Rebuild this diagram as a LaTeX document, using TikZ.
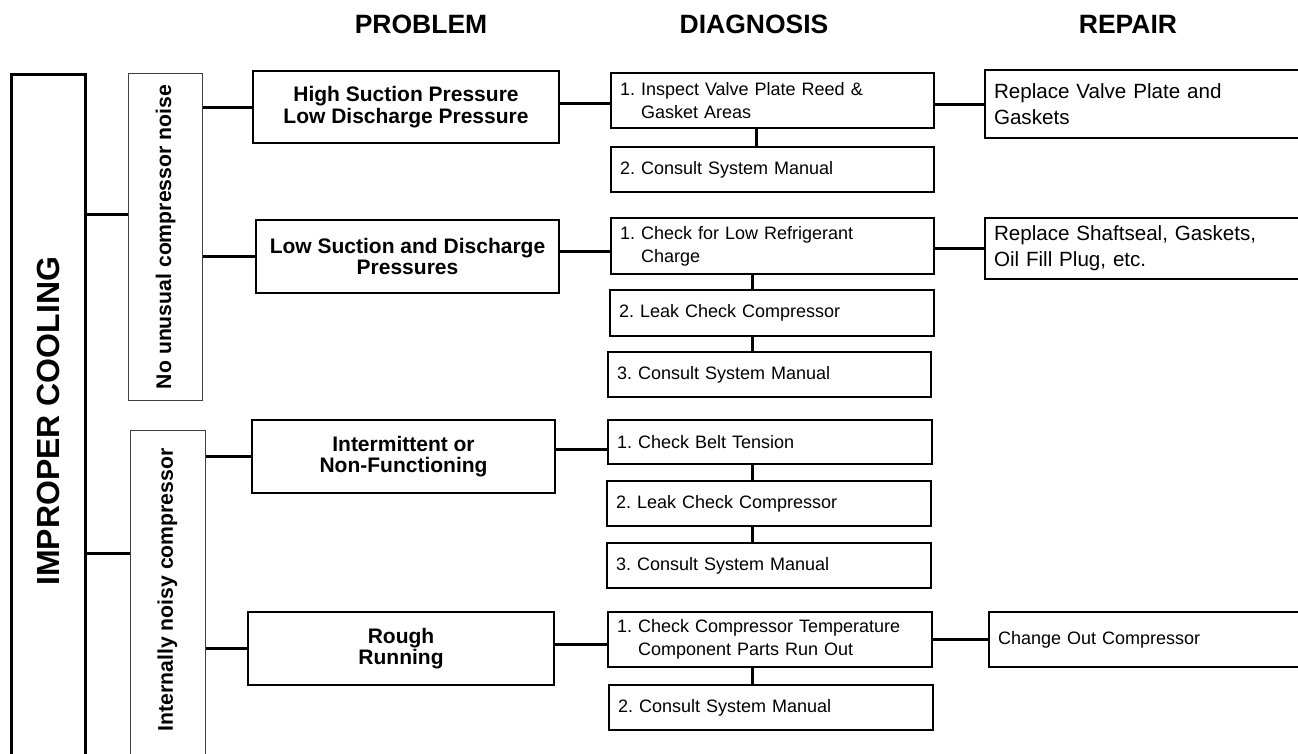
\documentclass[tikz,border=0pt]{standalone}
\usepackage{fontspec}
\setmainfont{Liberation Sans}
\usetikzlibrary{calc}
\frenchspacing
\begin{document}
\begin{tikzpicture}[x=1pt,y=-1pt,
  box/.style={draw, line width=2pt, rectangle, inner sep=0pt, anchor=north west},
  pbox/.style={box, font=\bfseries\fontsize{21}{21.5}\selectfont, align=center},
  dbox/.style={box, inner xsep=9pt, align=left, font=\frenchspacing\fontsize{18}{23}\selectfont},
  rbox/.style={box, inner xsep=9pt, align=left, font=\frenchspacing\fontsize{20.6}{26}\selectfont},
  sbox/.style={draw=black!75, line width=1.2pt, rectangle, inner sep=0pt, anchor=north west},
  stext/.style={rotate=90, font=\bfseries\fontsize{21.2}{24}\selectfont},
  head/.style={font=\bfseries\fontsize{26.5}{30}\selectfont},
  conn/.style={line width=3pt}
]
\useasboundingbox (0,0) rectangle (1298,753);
\fill[white] (0,0) rectangle (1298,753);

% headings
\node[head] (hp) at (421,24) {PROBLEM};
\node[head] (hd) at (754,24) {DIAGNOSIS};
\node[head] (hr) at (1128,24) {REPAIR};

% main box
\node[box, line width=2.5pt, minimum width=74, minimum height=694] (big) at (10,73) {};
\node[rotate=90, font=\bfseries\fontsize{32}{36}\selectfont] (bigt) at (big.center) {IMPROPER COOLING};

% side boxes
\node[sbox, minimum width=74, minimum height=327] (nu) at (128,73) {};
\node[stext] (nut) at (nu.center) {No unusual compressor noise};
\node[sbox, minimum width=75, minimum height=340] (in) at (130,430) {};
\node[stext] (int) at (167.5,590) {Internally noisy compressor};

\coordinate (j1) at (0,214);
\coordinate (j2) at (0,553);
\draw[conn] (j1 -| big.east) -- (j1 -| nu.west);
\draw[conn] (j2 -| big.east) -- (j2 -| in.west);

% problem boxes
\node[pbox, minimum width=306, minimum height=72] (P1) at (252,70) {High Suction Pressure\\Low Discharge Pressure};
\node[pbox, minimum width=303, minimum height=73] (P2) at (255,219) {Low Suction and Discharge\\Pressures};
\node[pbox, minimum width=303, minimum height=73] (P3) at (251,419) {Intermittent or\\Non-Functioning};
\node[pbox, minimum width=306, minimum height=73] (P4) at (247,611) {Rough\\Running};

\draw[conn] (P1.west) -- (P1.west -| nu.east);
\draw[conn] (P2.west) -- (P2.west -| nu.east);
\draw[conn] (P3.west) -- (P3.west -| in.east);
\draw[conn] (P4.west) -- (P4.west -| in.east);

% diagnosis boxes
\node[dbox, text width=305, minimum height=55] (D1a) at (610,72) {1. Inspect Valve Plate Reed \&\\\hphantom{1. }Gasket Areas};
\node[dbox, text width=305, minimum height=45] (D1b) at (610,146) {2. Consult System Manual};
\node[dbox, text width=305, minimum height=56] (D2a) at (610,217) {1. Check for Low Refrigerant\\\hphantom{1. }Charge};
\node[dbox, text width=306, minimum height=46] (D2b) at (609,289) {2. Leak Check Compressor};
\node[dbox, text width=305, minimum height=45] (D2c) at (607,351) {3. Consult System Manual};
\node[dbox, text width=306, minimum height=44] (D3a) at (607,419) {1. Check Belt Tension};
\node[dbox, text width=306, minimum height=45] (D3b) at (606,480) {2. Leak Check Compressor};
\node[dbox, text width=306, minimum height=45] (D3c) at (606,542) {3. Consult System Manual};
\node[dbox, text width=306, minimum height=55] (D4a) at (607,611) {1. Check Compressor Temperature\\\hphantom{1. }Component Parts Run Out};
\node[dbox, text width=306, minimum height=45] (D4b) at (608,684) {2. Consult System Manual};

\coordinate (k1) at ($(P1.east)!0.5!(P1.east |- D1a.west)$);
\coordinate (k2) at ($(P2.east)!0.5!(P2.east |- D2a.west)$);
\coordinate (k3) at ($(P3.east)!0.5!(P3.east |- D3a.west)$);
\coordinate (k4) at ($(P4.east)!0.5!(P4.east |- D4a.west)$);
\draw[conn] (k1) -- (k1 -| D1a.west);
\draw[conn] (k2) -- (k2 -| D2a.west);
\draw[conn] (k3) -- (k3 -| D3a.west);
\draw[conn] (k4) -- (k4 -| D4a.west);

\path ([xshift=146pt]D1a.south west) coordinate (v1);
\draw[conn] (v1) -- (v1 |- D1b.north);
\path ([xshift=142pt]D2a.south west) coordinate (v2);
\draw[conn] (v2) -- (v2 |- D2b.north);
\path ([xshift=143pt]D2b.south west) coordinate (v3);
\draw[conn] (v3) -- (v3 |- D2c.north);
\path ([xshift=145pt]D3a.south west) coordinate (v4);
\draw[conn] (v4) -- (v4 |- D3b.north);
\path ([xshift=146pt]D3b.south west) coordinate (v5);
\draw[conn] (v5) -- (v5 |- D3c.north);
\path ([xshift=145pt]D4a.south west) coordinate (v6);
\draw[conn] (v6) -- (v6 |- D4b.north);

% repair boxes
\node[rbox, text width=310, minimum height=68] (R1) at (984,69) {Replace Valve Plate and\\Gaskets};
\node[rbox, text width=310, minimum height=61] (R2) at (984,217) {Replace Shaftseal, Gaskets,\\Oil Fill Plug, etc.};
\node[dbox, text width=306, minimum height=55] (R3) at (988,611) {Change Out Compressor};

\draw[conn] (R1.west) -- (R1.west -| D1a.east);
\draw[conn] (R2.west) -- (R2.west -| D2a.east);
\draw[conn] (R3.west) -- (R3.west -| D4a.east);
\end{tikzpicture}
\end{document}
